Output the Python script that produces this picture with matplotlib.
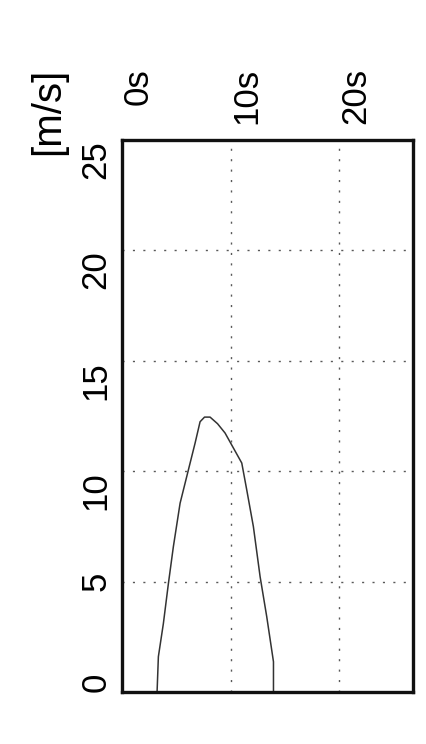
import matplotlib
matplotlib.use("Agg")
import matplotlib.pyplot as plt
import matplotlib.transforms as mtransforms

plt.rcParams['font.family'] = ['Liberation Sans', 'DejaVu Sans']

# speed profile: time [s] vs speed [m/s]
time_s = [3.23, 3.35, 3.81, 4.27, 4.73, 5.35, 6.11, 6.73, 7.19, 7.6, 8.11,
          8.8, 9.49, 10.26, 11.03, 11.49, 12.1, 12.72, 13.33, 13.95, 13.95]
speed = [0.0, 1.6, 3.1, 4.9, 6.58, 8.55, 10.05, 11.27, 12.24, 12.45, 12.45,
         12.15, 11.73, 11.05, 10.37, 9.15, 7.49, 5.22, 3.41, 1.37, 0.0]

time_ticks = [0, 10, 20]
time_labels = ['0s', '10s', '20s']
speed_ticks = [0, 5, 10, 15, 20, 25]
unit_label = '[m/s]'

fig = plt.figure(figsize=(4.26, 7.44), dpi=100)
ax = fig.add_axes([122 / 426, 1 - 692 / 744, 291 / 426, 552 / 744])

ax.plot(time_s, speed, color='#333333', lw=1.1)

ax.set_xlim(0, 26.8)
ax.set_ylim(0, 25)

# dotted grid, only the inner lines
for t in time_ticks[1:]:
    ax.axvline(t, color='0.35', lw=1.0, ls=(0, (1.5, 6)))
for v in speed_ticks[1:-1]:
    ax.axhline(v, color='0.35', lw=1.0, ls=(0, (1.5, 6)))

for s in ax.spines.values():
    s.set_linewidth(2.4)
    s.set_color('#111111')

ax.set_xticks([])
ax.set_yticks(speed_ticks)
ax.set_yticklabels([str(v) for v in speed_ticks], rotation=90, fontsize=25)
ax.tick_params(axis='y', length=0, pad=7)
for lab in ax.get_yticklabels():
    lab.set_va('top' if len(lab.get_text()) > 1 else 'center')
ax.get_yticklabels()[0].set_va('bottom')

# time labels above the frame, read bottom to top
trans = mtransforms.blended_transform_factory(ax.transData, ax.transAxes)
for t, lab in zip(time_ticks, time_labels):
    ax.text(t, 1 + 72 / 552, lab, transform=trans, rotation=90,
            ha='left', va='top', fontsize=25)

fig.text(48 / 426, 1 - 111 / 744, unit_label, rotation=90,
         ha='center', va='center', fontsize=29)

fig.savefig('out.png', dpi=100)
